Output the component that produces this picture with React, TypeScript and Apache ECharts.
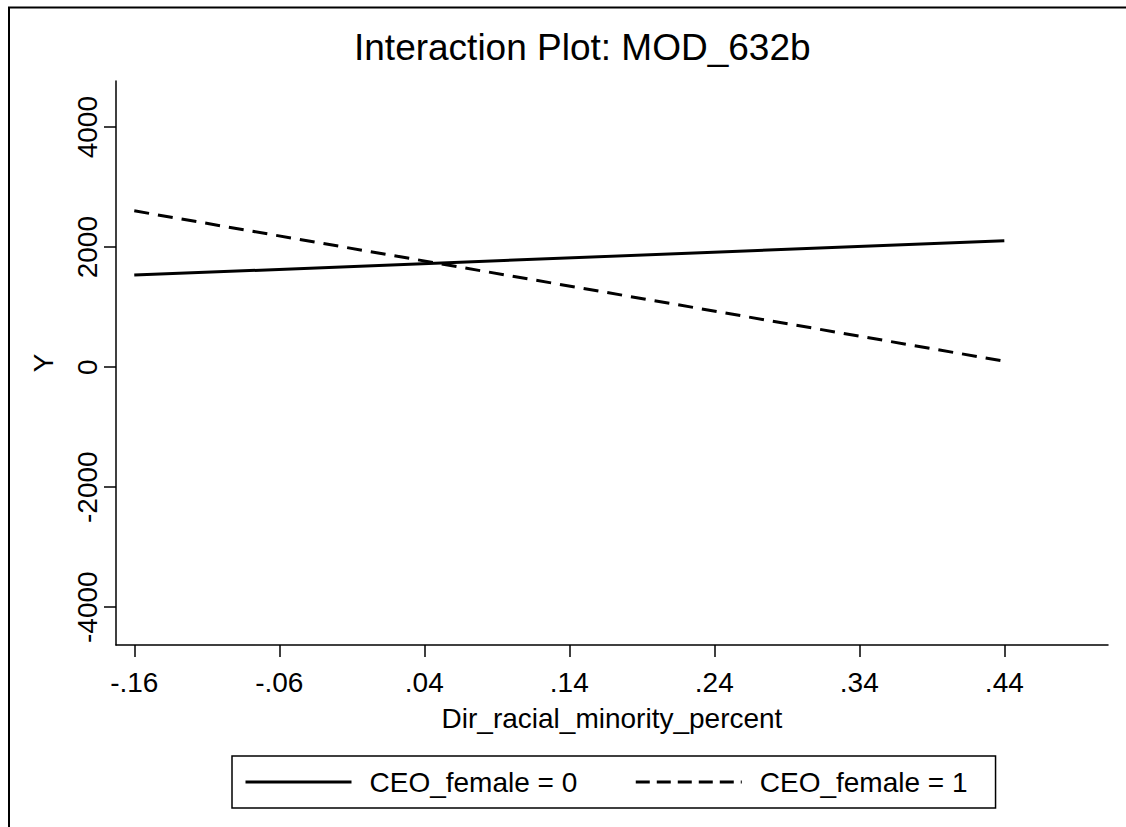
import React, { useEffect, useRef } from 'react';
import * as echarts from 'echarts';

const titleText = 'Interaction Plot: MOD_632b';
const xName = 'Dir_racial_minority_percent';
const yName = 'Y';
const xTicks = [-0.16, -0.06, 0.04, 0.14, 0.24, 0.34, 0.44];
const yTicks = [-4000, -2000, 0, 2000, 4000];
const seriesNames = ['CEO_female = 0', 'CEO_female = 1'];
const xValues = [-0.16, 0.44];
const ceoFemale0 = [1535, 2107];
const ceoFemale1 = [2606, 100];

const FONT = '"Liberation Sans", Arial, Helvetica, sans-serif';

export default function App() {
  const ref = useRef<HTMLDivElement>(null);
  useEffect(() => {
    if (!ref.current) return;
    const chart = echarts.init(ref.current, null, { renderer: 'svg' });
    chart.setOption({
      animation: false,
      backgroundColor: '#ffffff',
      textStyle: { fontFamily: FONT, color: '#000' },
      title: {
        text: titleText,
        left: 354,
        top: 29,
        padding: 0,
        textStyle: { fontSize: 37, fontWeight: 'normal', color: '#000', fontFamily: FONT },
      },
      grid: { left: 116, right: 18, top: 81, bottom: 182, containLabel: false, outerBoundsMode: 'none' },
      xAxis: {
        type: 'value',
        min: -0.1726,
        max: 0.5115,
        name: xName,
        nameLocation: 'middle',
        nameGap: 59,
        nameTextStyle: { fontSize: 28, color: '#000', fontFamily: FONT },
        axisLine: { show: true, onZero: false, lineStyle: { color: '#000', width: 1.5 } },
        axisTick: { show: true, length: 12, customValues: xTicks, lineStyle: { color: '#000', width: 1.5 } },
        axisLabel: {
          customValues: xTicks,
          fontSize: 28,
          color: '#000',
          margin: 23,
          fontFamily: FONT,
          formatter: (v: number) => v.toFixed(2).replace('0.', '.'),
        },
        splitLine: { show: false },
      },
      yAxis: {
        type: 'value',
        min: -4630,
        max: 4770,
        name: yName,
        nameLocation: 'middle',
        nameGap: 59,
        nameTextStyle: { fontSize: 28, color: '#000', fontFamily: FONT },
        axisLine: { show: true, onZero: false, lineStyle: { color: '#000', width: 1.5 } },
        axisTick: { show: true, length: 12, customValues: yTicks, lineStyle: { color: '#000', width: 1.5 } },
        axisLabel: {
          customValues: yTicks,
          fontSize: 28,
          color: '#000',
          rotate: 90,
          margin: 15,
          fontFamily: FONT,
          formatter: (v: number) => String(v),
        },
        splitLine: { show: false },
      },
      legend: {
        left: 232,
        top: 756,
        orient: 'horizontal',
        padding: [12, 28, 12, 12],
        borderColor: '#000',
        borderWidth: 1.5,
        itemWidth: 106,
        itemHeight: 14,
        itemGap: 57,
        selectedMode: false,
        itemStyle: { opacity: 0 },
        lineStyle: { width: 3 },
        textStyle: { fontSize: 28, color: '#000', fontFamily: FONT, padding: [0, 0, 0, 13] },
        data: [
          { name: seriesNames[0] },
          { name: seriesNames[1], lineStyle: { type: [14, 7], width: 3 } },
        ],
      },
      graphic: [
        { type: 'line', shape: { x1: 9, y1: 7, x2: 9, y2: 827 }, style: { stroke: '#000', lineWidth: 2 } },
        { type: 'line', shape: { x1: 8, y1: 7.5, x2: 1126, y2: 7.5 }, style: { stroke: '#000', lineWidth: 2 } },
      ],
      series: [
        {
          name: seriesNames[0],
          type: 'line',
          data: xValues.map((x, i) => [x, ceoFemale0[i]]),
          symbol: 'none',
          showSymbol: false,
          lineStyle: { color: '#000', width: 3, type: 'solid' },
          itemStyle: { color: '#000' },
        },
        {
          name: seriesNames[1],
          type: 'line',
          data: xValues.map((x, i) => [x, ceoFemale1[i]]),
          symbol: 'none',
          showSymbol: false,
          lineStyle: { color: '#000', width: 3, type: [15, 9] },
          itemStyle: { color: '#000' },
        },
      ],
    });
    return () => chart.dispose();
  }, []);
  return (
    <div
      ref={ref}
      style={{ position: 'absolute', left: 0, top: 0, width: 1126, height: 827, background: '#fff' }}
    />
  );
}
